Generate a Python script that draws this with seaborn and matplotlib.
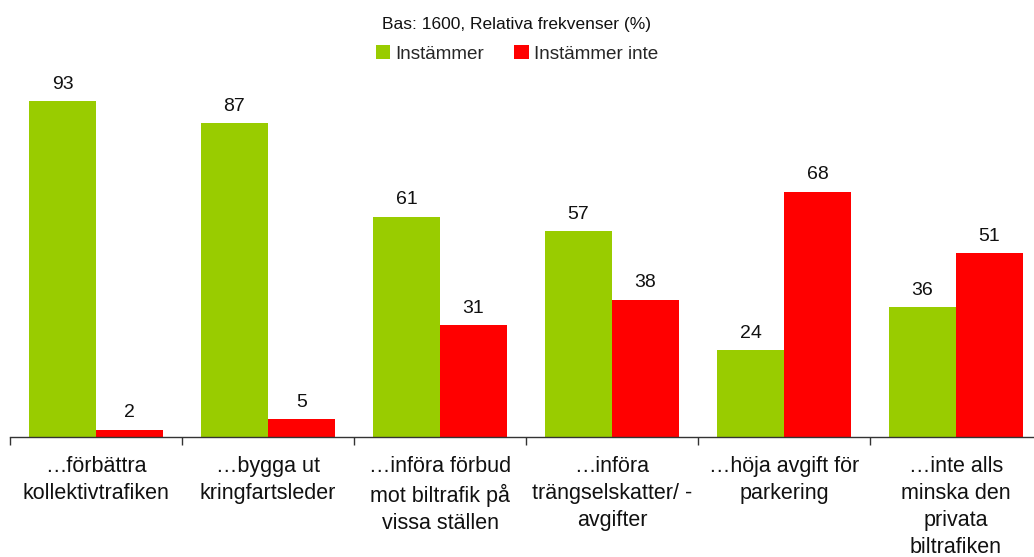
import matplotlib
matplotlib.use("Agg")
import matplotlib.pyplot as plt
import seaborn as sns
import pandas as pd
import numpy as np
from matplotlib.patches import Patch

categories = [
    "…förbättra\nkollektivtrafiken",
    "…bygga ut\nkringfartsleder",
    "…införa förbud\nmot biltrafik på\nvissa ställen",
    "…införa\nträngselskatter/ -\navgifter",
    "…höja avgift för\nparkering",
    "…inte alls\nminska den\nprivata\nbiltrafiken",
]
series_names = ["Instämmer", "Instämmer inte"]
agree = [93, 87, 61, 57, 24, 36]
disagree = [2, 5, 31, 38, 68, 51]
colors = ["#99CC00", "#FF0000"]

df = pd.DataFrame({
    "Kategori": categories * 2,
    "Serie": [series_names[0]] * len(categories) + [series_names[1]] * len(categories),
    "Värde": agree + disagree,
})

sns.set_theme(style="white")
plt.rcParams["font.family"] = ["Liberation Sans", "DejaVu Sans"]

fig = plt.figure(figsize=(10.34, 5.57), dpi=100)
W, H = 1034, 557
ax = fig.add_axes([10 / W, (H - 437) / H, 1032 / W, 361 / H])

sns.barplot(data=df, x="Kategori", y="Värde", hue="Serie", order=categories,
            hue_order=series_names, palette=colors, width=0.78, dodge=True,
            saturation=1, legend=False, ax=ax, errorbar=None, linewidth=0)

for cont in ax.containers:
    ax.bar_label(cont, fmt="%d", padding=6, fontsize=14, color="#111111")

ax.set_ylim(0, 100)
ax.set_xlim(-0.5, len(categories) - 0.5)
ax.set_xlabel("")
ax.set_ylabel("")
ax.set_yticks([])
for s in ["top", "right", "left"]:
    ax.spines[s].set_visible(False)
ax.spines["bottom"].set_color("#333333")
ax.spines["bottom"].set_linewidth(1.0)

ax.set_xticks(np.arange(len(categories)))
ax.set_xticklabels(categories, fontsize=15.5, linespacing=1.36, color="#111111")
ax.tick_params(axis="x", which="major", length=0, pad=14)
ax.set_xticks(np.arange(len(categories) + 1) - 0.5, minor=True)
ax.tick_params(axis="x", which="minor", length=6, width=1, color="#333333",
               direction="out", bottom=True)

fig.text(0.5, 1 - 24 / H, "Bas: 1600, Relativa frekvenser (%)", ha="center",
         va="center", fontsize=12.5, color="#111111")
handles = [Patch(facecolor=c, edgecolor="none") for c in colors]
fig.legend(handles, series_names, loc="center", bbox_to_anchor=(0.5, 1 - 54 / H),
           ncol=2, frameon=False, fontsize=13.6, handlelength=0.75, handleheight=0.75,
           handletextpad=0.3, columnspacing=1.6)

fig.savefig("out.png", dpi=100)
